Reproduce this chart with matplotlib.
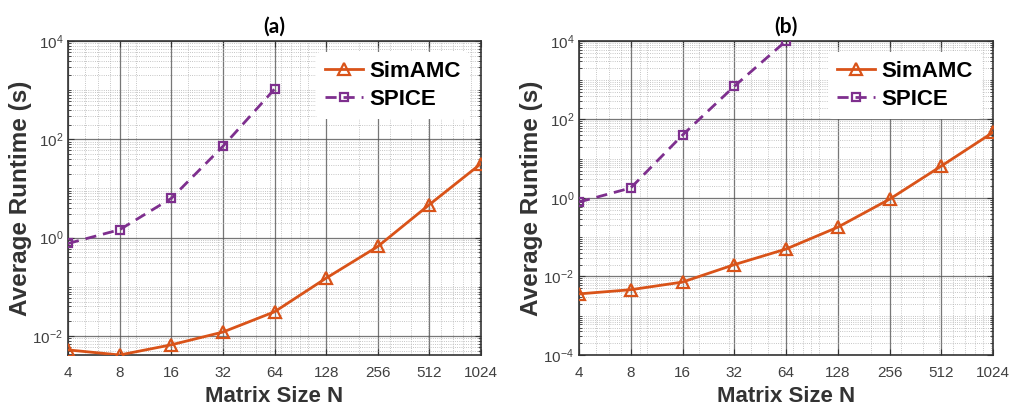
import matplotlib
matplotlib.use('Agg')
import matplotlib.pyplot as plt
from matplotlib.ticker import FixedLocator, LogLocator, NullFormatter, LogFormatterMathtext

# matrix sizes on the x axis
sizes = [4, 8, 16, 32, 64, 128, 256, 512, 1024]
size_labels = ['4', '8', '16', '32', '64', '128', '256', '512', '1024']

# panel (a)
simamc_a = [0.0052, 0.0041, 0.0066, 0.012, 0.031, 0.15, 0.66, 4.7, 32]
spice_a = [0.76, 1.45, 6.3, 72, 1050]

# panel (b)
simamc_b = [0.0036, 0.0046, 0.0072, 0.020, 0.050, 0.18, 0.93, 6.5, 47]
spice_b = [0.79, 1.8, 40, 700, 10000]

orange = '#D95319'
purple = '#7E2F8E'

plt.rcParams['font.family'] = ['Liberation Sans', 'DejaVu Sans']

fig = plt.figure(figsize=(10.11, 4.11), dpi=100)


def draw_panel(rect, simamc, spice, ylim, yticks, title):
    ax = fig.add_axes(rect)
    ax.set_xscale('log', base=2)
    ax.set_yscale('log')

    ax.plot(sizes, simamc, color=orange, lw=2, marker='^', ms=9,
            mfc='none', mew=1.6, label='SimAMC', zorder=3)
    ax.plot(sizes[:len(spice)], spice, color=purple, lw=2, ls=(0, (4, 2.5)),
            marker='s', ms=6, mfc='none', mew=1.6, label='SPICE', zorder=3)

    ax.set_xlim(4, 1024)
    ax.set_ylim(*ylim)

    ax.xaxis.set_major_locator(FixedLocator(sizes))
    ax.set_xticklabels(size_labels)
    ax.xaxis.set_minor_locator(LogLocator(base=10, subs=range(1, 10), numticks=50))
    ax.xaxis.set_minor_formatter(NullFormatter())

    ax.yaxis.set_major_locator(FixedLocator(yticks))
    ax.yaxis.set_major_formatter(LogFormatterMathtext())
    ax.yaxis.set_minor_locator(LogLocator(base=10, subs=range(1, 10), numticks=50))
    ax.yaxis.set_minor_formatter(NullFormatter())

    ax.grid(True, which='major', color='#555555', lw=0.9, alpha=0.8)
    ax.grid(True, which='minor', color='#aaaaaa', lw=0.6, ls=':', alpha=0.9)
    ax.set_axisbelow(True)

    ax.tick_params(which='both', direction='in', top=True, right=True,
                   labelsize=11, colors='#333333', labelcolor='#404040')
    ax.tick_params(which='major', length=4)
    ax.tick_params(which='minor', length=2)
    ax.tick_params(axis='x', which='minor', length=0)
    ax.tick_params(axis='x', pad=8)
    for sp in ax.spines.values():
        sp.set_color('#333333')
        sp.set_linewidth(1.2)

    ax.set_xlabel('Matrix Size N', fontsize=16, fontweight='bold', color='#333333')
    ax.set_ylabel('Average Runtime (s)', fontsize=17.5, fontweight='bold',
                  color='#333333', labelpad=0)
    ax.set_title(title, fontsize=15, fontweight='bold', pad=6,
                 family=['Lato', 'DejaVu Sans'])

    leg = ax.legend(loc='upper right', frameon=True,
                    framealpha=1, edgecolor='none', handlelength=1.7,
                    borderaxespad=0.5, labelspacing=0.3, handletextpad=0.3,
                    prop={'weight': 'bold', 'size': 16})
    leg.get_frame().set_facecolor('white')
    return ax


draw_panel([0.0673, 0.1363, 0.4085, 0.764], simamc_a, spice_a,
           (0.0041, 1e4), [1e-2, 1, 1e2, 1e4], '(a)')
draw_panel([0.5727, 0.1363, 0.4095, 0.764], simamc_b, spice_b,
           (1e-4, 1e4), [1e-4, 1e-2, 1, 1e2, 1e4], '(b)')

fig.savefig('out.png', dpi=100)
